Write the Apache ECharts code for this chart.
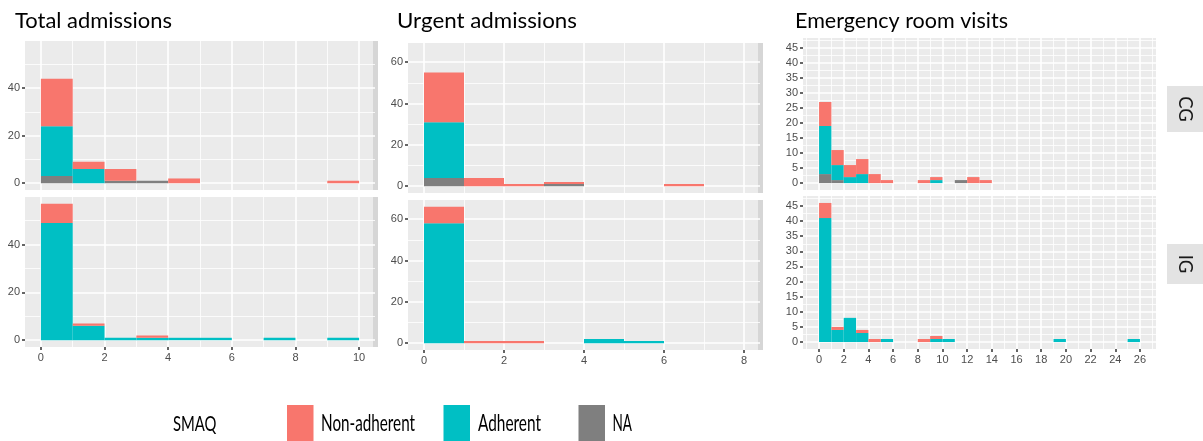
<!DOCTYPE html>
<html><head><meta charset="utf-8">
<script src="https://cdn.jsdelivr.net/npm/echarts@6/dist/echarts.min.js"></script>
<style>html,body{margin:0;padding:0;background:#fff}#c{width:1203px;height:441px}</style>
</head><body><div id="c"></div>
<script>
// ---------- DATA (counts per bin of width 1, bins start at 0) ----------
// Total admissions
const totalCG_non = [20, 3, 5, 0, 2, 0, 0, 0, 0, 1];
const totalCG_adh = [21, 6, 0, 0, 0, 0, 0, 0, 0, 0];
const totalCG_na  = [ 3, 0, 1, 1, 0, 0, 0, 0, 0, 0];
const totalIG_non = [ 8, 1, 0, 1, 0, 0, 0, 0, 0, 0];
const totalIG_adh = [49, 6, 1, 1, 1, 1, 0, 1, 0, 1];
const totalIG_na  = [ 0, 0, 0, 0, 0, 0, 0, 0, 0, 0];
// Urgent admissions
const urgentCG_non = [24, 4, 1, 1, 0, 0, 1, 0];
const urgentCG_adh = [27, 0, 0, 0, 0, 0, 0, 0];
const urgentCG_na  = [ 4, 0, 0, 1, 0, 0, 0, 0];
const urgentIG_non = [ 8, 1, 1, 0, 0, 0, 0, 0];
const urgentIG_adh = [58, 0, 0, 0, 2, 1, 0, 0];
const urgentIG_na  = [ 0, 0, 0, 0, 0, 0, 0, 0];
// Emergency room visits (bins 0..25)
const erCG_non = [8, 5, 4, 5, 3, 1, 0, 0, 1, 1, 0, 0, 2, 1, 0, 0, 0, 0, 0, 0, 0, 0, 0, 0, 0, 0];
const erCG_adh = [16, 5, 2, 3, 0, 0, 0, 0, 0, 1, 0, 0, 0, 0, 0, 0, 0, 0, 0, 0, 0, 0, 0, 0, 0, 0];
const erCG_na  = [3, 1, 0, 0, 0, 0, 0, 0, 0, 0, 0, 1, 0, 0, 0, 0, 0, 0, 0, 0, 0, 0, 0, 0, 0, 0];
const erIG_non = [5, 1, 0, 1, 1, 0, 0, 0, 1, 1, 0, 0, 0, 0, 0, 0, 0, 0, 0, 0, 0, 0, 0, 0, 0, 0];
const erIG_adh = [41, 4, 8, 3, 0, 1, 0, 0, 0, 1, 1, 0, 0, 0, 0, 0, 0, 0, 0, 1, 0, 0, 0, 0, 0, 1];
const erIG_na  = [0, 0, 0, 0, 0, 0, 0, 0, 0, 0, 0, 0, 0, 0, 0, 0, 0, 0, 0, 0, 0, 0, 0, 0, 0, 0];

// Tick values
const totalXTicks = [0, 2, 4, 6, 8, 10];
const totalXMinor = [1, 3, 5, 7, 9];
const totalYTicks = [0, 20, 40];
const totalYMinor = [10, 30, 50];
const urgentXTicks = [0, 2, 4, 6, 8];
const urgentXMinor = [1, 3, 5, 7];
const urgentYTicks = [0, 20, 40, 60];
const urgentYMinor = [10, 30, 50];
const erXTicks = [0, 2, 4, 6, 8, 10, 12, 14, 16, 18, 20, 22, 24, 26];
const erXMinor = [-1, 1, 3, 5, 7, 9, 11, 13, 15, 17, 19, 21, 23, 25, 27];
const erYTicks = [0, 5, 10, 15, 20, 25, 30, 35, 40, 45];
const erYMinor = [2.5, 7.5, 12.5, 17.5, 22.5, 27.5, 32.5, 37.5, 42.5, 47.5];

const titles = ['Total admissions', 'Urgent admissions', 'Emergency room visits'];
const facetLabels = ['CG', 'IG'];
const groupNames = ['Non-adherent', 'Adherent', 'NA'];
const legendTitle = 'SMAQ';

// ---------- STYLE ----------
const COL = { 'Non-adherent': '#F8766D', 'Adherent': '#00BFC4', 'NA': '#7F7F7F' };
const PANEL_BG = '#EBEBEB';
const TICK_FONT = "'Liberation Sans Narrow', 'Liberation Sans', Arial, sans-serif";

const columns = [
  { xTicks: totalXTicks, xMinor: totalXMinor, yTicks: totalYTicks, yMinor: totalYMinor,
    panels: [[totalCG_non, totalCG_adh, totalCG_na], [totalIG_non, totalIG_adh, totalIG_na]],
    grids: [{ left: 25, top: 41, width: 350, height: 149 }, { left: 25, top: 197, width: 350, height: 150 }] },
  { xTicks: urgentXTicks, xMinor: urgentXMinor, yTicks: urgentYTicks, yMinor: urgentYMinor,
    panels: [[urgentCG_non, urgentCG_adh, urgentCG_na], [urgentIG_non, urgentIG_adh, urgentIG_na]],
    grids: [{ left: 408, top: 43, width: 352, height: 150 }, { left: 408, top: 200, width: 352, height: 150 }] },
  { xTicks: erXTicks, xMinor: erXMinor, yTicks: erYTicks, yMinor: erYMinor,
    panels: [[erCG_non, erCG_adh, erCG_na], [erIG_non, erIG_adh, erIG_na]],
    grids: [{ left: 803, top: 38, width: 353, height: 152 }, { left: 803, top: 196, width: 353, height: 153 }] }
];

const grid = [], xAxis = [], yAxis = [], series = [];

function renderRect(params, api) {
  const a = api.coord([api.value(0), api.value(3)]);
  const b = api.coord([api.value(1), api.value(2)]);
  return { type: 'rect', shape: { x: a[0], y: a[1], width: b[0] - a[0], height: b[1] - a[1] },
           style: { fill: api.visual('color') } };
}

columns.forEach((col) => {
  const n = col.panels[0][0].length;
  let maxTot = 0;
  col.panels.forEach(p => { for (let k = 0; k < n; k++) maxTot = Math.max(maxTot, p[0][k] + p[1][k] + p[2][k]); });
  const xMin = -0.05 * n, xMax = 1.05 * n;
  const yMin = -0.05 * maxTot, yMax = 1.05 * maxTot;
  col.panels.forEach((p, pi) => {
    const gi = grid.length;
    const showX = pi === 1;
    grid.push(Object.assign({ show: true, backgroundColor: PANEL_BG, borderWidth: 0, containLabel: false, outerBoundsMode: 'none' }, col.grids[pi]));
    const axBase = { type: 'value', gridIndex: gi, axisLine: { show: false, onZero: false }, minorTick: { show: false }, minorSplitLine: { show: false } };
    // major x
    xAxis.push(Object.assign({}, axBase, {
      min: xMin, max: xMax, position: 'bottom',
      axisTick: { show: showX, length: 3, customValues: col.xTicks, lineStyle: { color: '#333', width: 1.5 } },
      axisLabel: { show: showX, customValues: col.xTicks, color: '#4D4D4D', fontSize: 11, fontFamily: TICK_FONT, margin: 5, hideOverlap: false },
      splitLine: { show: true, lineStyle: { color: '#FFFFFF', width: 1.6 } }
    }));
    // minor x
    xAxis.push(Object.assign({}, axBase, {
      min: xMin, max: xMax, position: 'bottom',
      axisTick: { show: false, customValues: col.xMinor },
      axisLabel: { show: false, customValues: col.xMinor },
      splitLine: { show: true, lineStyle: { color: '#FFFFFF', width: 0.8 } }
    }));
    // major y
    yAxis.push(Object.assign({}, axBase, {
      min: yMin, max: yMax, position: 'left',
      axisTick: { show: true, length: 3, customValues: col.yTicks, lineStyle: { color: '#333', width: 1.5 } },
      axisLabel: { show: true, customValues: col.yTicks, color: '#4D4D4D', fontSize: 11, fontFamily: TICK_FONT, margin: 5, hideOverlap: false },
      splitLine: { show: true, lineStyle: { color: '#FFFFFF', width: 1.6 } }
    }));
    // minor y
    yAxis.push(Object.assign({}, axBase, {
      min: yMin, max: yMax, position: 'left',
      axisTick: { show: false, customValues: col.yMinor },
      axisLabel: { show: false, customValues: col.yMinor },
      splitLine: { show: true, lineStyle: { color: '#FFFFFF', width: 0.8 } }
    }));
    const xi = xAxis.length - 2, yi = yAxis.length - 2;
    // stacked segments: NA at bottom, Adherent, Non-adherent on top
    const segs = { 'NA': [], 'Adherent': [], 'Non-adherent': [] };
    for (let k = 0; k < n; k++) {
      const na = p[2][k], adh = p[1][k], non = p[0][k];
      if (na > 0) segs['NA'].push([k, k + 1, 0, na]);
      if (adh > 0) segs['Adherent'].push([k, k + 1, na, na + adh]);
      if (non > 0) segs['Non-adherent'].push([k, k + 1, na + adh, na + adh + non]);
    }
    ['NA', 'Adherent', 'Non-adherent'].forEach(name => {
      series.push({ type: 'custom', name, xAxisIndex: xi, yAxisIndex: yi, renderItem: renderRect,
        itemStyle: { color: COL[name] }, encode: { x: [0, 1], y: [2, 3] }, data: segs[name], clip: true, silent: true });
    });
  });
});

// ---------- TEXT HELPERS ----------
const mctx = document.createElement('canvas').getContext('2d');
function fitText(str, left, capTop, capH, width, color) {
  const size = capH / 0.7165;
  mctx.font = size + 'px Lato';
  const w = mctx.measureText(str).width;
  return { type: 'text', x: left, y: capTop + capH / 2 + size * 0.04, scaleX: width / w, silent: true,
    style: { text: str, fontFamily: 'Lato', fontSize: size, fill: color || '#000', align: 'left', verticalAlign: 'middle' } };
}

const graphics = [];
// Titles
graphics.push(fitText(titles[0], 15, 12.5, 15, 157));
graphics.push(fitText(titles[1], 397, 12.5, 15, 180));
graphics.push(fitText(titles[2], 795, 12.5, 15, 213));
// cropped strips on the right of first two columns
[[373, 41, 149], [373, 197, 150], [758, 43, 150], [758, 200, 150]].forEach(s => {
  graphics.push({ type: 'rect', shape: { x: s[0], y: s[1], width: 5, height: s[2] }, style: { fill: '#D6D6D6' }, silent: true });
});
// facet strips
graphics.push({ type: 'rect', shape: { x: 1167, y: 86, width: 36, height: 46 }, style: { fill: '#E3E3E3' }, silent: true });
graphics.push({ type: 'rect', shape: { x: 1167, y: 244, width: 36, height: 40 }, style: { fill: '#E3E3E3' }, silent: true });
graphics.push({ type: 'text', x: 1185, y: 109, rotation: -Math.PI / 2, silent: true,
  style: { text: facetLabels[0], fontFamily: 'Lato', fontSize: 18.5, fill: '#1A1A1A', align: 'center', verticalAlign: 'middle' } });
graphics.push({ type: 'text', x: 1185, y: 264, rotation: -Math.PI / 2, silent: true,
  style: { text: facetLabels[1], fontFamily: 'Lato', fontSize: 18.5, fill: '#1A1A1A', align: 'center', verticalAlign: 'middle' } });
// legend
graphics.push(fitText(legendTitle, 173, 416, 14.7, 43.5));
const legendPos = [[287, 321, 94], [443.5, 478, 63], [578.5, 612.5, 19.5]];
groupNames.forEach((g, i) => {
  graphics.push({ type: 'rect', shape: { x: legendPos[i][0], y: 405, width: 26.5, height: 40 }, style: { fill: COL[g] }, silent: true });
  graphics.push(fitText(g, legendPos[i][1], 414.5, 16, legendPos[i][2]));
});

const chart = echarts.init(document.getElementById('c'), null, { renderer: 'canvas' });
chart.setOption({ animation: false, backgroundColor: '#FFFFFF', grid, xAxis, yAxis, series, graphic: { elements: graphics } });
</script></body></html>
